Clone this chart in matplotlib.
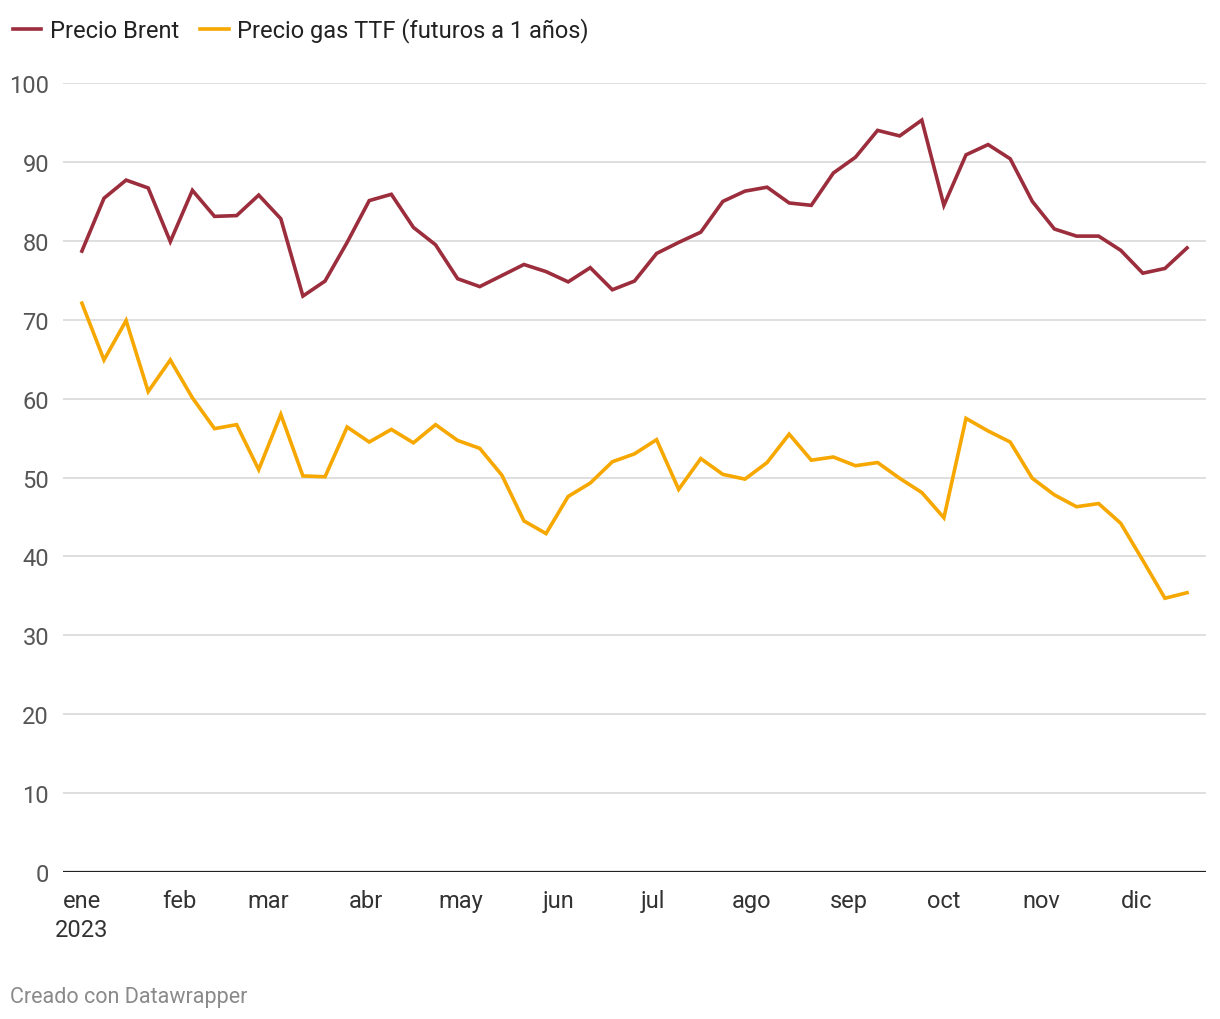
import matplotlib
matplotlib.use("Agg")
import matplotlib.pyplot as plt
import matplotlib.dates as mdates
import pandas as pd

# Datos semanales 2023
fechas = pd.date_range("2023-01-01", periods=51, freq="7D")

brent = [78.7, 85.4, 87.7, 86.7, 79.9, 86.4, 83.1, 83.2, 85.8, 82.8,
         73.0, 74.9, 79.8, 85.1, 85.9, 81.7, 79.5, 75.2, 74.2, 75.6,
         77.0, 76.1, 74.8, 76.6, 73.8, 74.9, 78.4, 79.8, 81.1, 85.0,
         86.3, 86.8, 84.8, 84.5, 88.6, 90.6, 94.0, 93.3, 95.3, 84.5,
         90.9, 92.2, 90.4, 85.0, 81.5, 80.6, 80.6, 78.8, 75.9, 76.5,
         79.1]

ttf = [72.1, 64.9, 69.9, 60.9, 64.9, 60.1, 56.2, 56.7, 51.0, 58.0,
       50.2, 50.1, 56.4, 54.5, 56.1, 54.4, 56.7, 54.7, 53.7, 50.3,
       44.5, 42.9, 47.6, 49.3, 52.0, 53.0, 54.8, 48.5, 52.4, 50.4,
       49.8, 51.9, 55.5, 52.2, 52.6, 51.5, 51.9, 49.9, 48.1, 44.9,
       57.5, 55.9, 54.5, 49.9, 47.8, 46.3, 46.7, 44.2, 39.5, 34.7,
       35.4]

meses = ["ene\n2023", "feb", "mar", "abr", "may", "jun",
         "jul", "ago", "sep", "oct", "nov", "dic"]
inicio_meses = pd.date_range("2023-01-01", periods=12, freq="MS")

plt.rcParams["font.family"] = ["Roboto", "DejaVu Sans"]

fig = plt.figure(figsize=(12.2, 10.2), dpi=100)
ax = fig.add_axes([0.0516, 0.1441, 0.9369, 0.7735])

ax.plot(fechas, brent, color="#9b2d3c", lw=2.6, label="Precio Brent",
        solid_joinstyle="miter", zorder=3)
ax.plot(fechas, ttf, color="#f6a800", lw=2.6, label="Precio gas TTF (futuros a 1 años)",
        solid_joinstyle="miter", zorder=3)

ax.set_ylim(0, 100)
ax.set_xlim(pd.Timestamp("2022-12-26"), pd.Timestamp("2023-12-23"))

ax.set_yticks(range(0, 101, 10))
ax.grid(axis="y", color="#d6d6d6", lw=1.1)
ax.axhline(0, color="#222222", lw=1.6, zorder=4)
for s in ax.spines.values():
    s.set_visible(False)

ax.set_xticks(inicio_meses)
ax.set_xticklabels(meses, linespacing=1.37)
ax.tick_params(axis="x", length=0, pad=12, labelsize=17, labelcolor="#333333")
ax.tick_params(axis="y", length=0, pad=10, labelsize=17, labelcolor="#555555")

ax.legend(loc="center left", bbox_to_anchor=(0.003, 0.9696), bbox_transform=fig.transFigure,
          ncol=2, frameon=False, fontsize=17, handlelength=1.2, handletextpad=0.35,
          columnspacing=0.9, borderpad=0, borderaxespad=0.4, labelcolor="#222222")

fig.text(0.008, 0.0225, "Creado con Datawrapper", fontsize=15.5, color="#8a8a8a",
         va="center", ha="left")

fig.savefig("out.png", dpi=100, facecolor="white")
